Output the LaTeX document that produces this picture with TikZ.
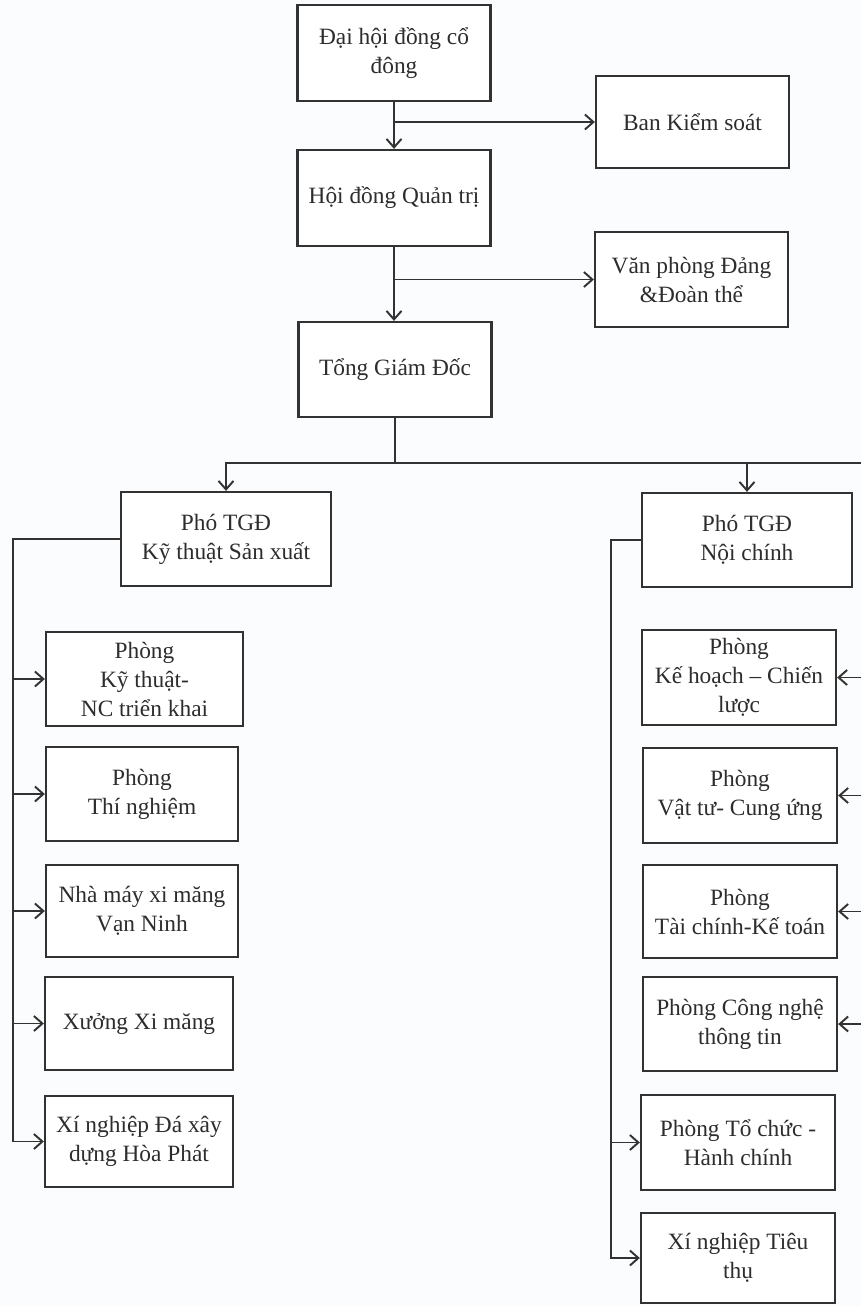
\documentclass[tikz,border=0pt]{standalone}
\usepackage{fontspec}
\setmainfont{Liberation Serif}
\usepackage{xcolor}
\usepackage{tikz}
\usetikzlibrary{arrows.meta,positioning,calc}
\definecolor{inkgray}{RGB}{50,50,50}
\definecolor{textgray}{RGB}{45,45,45}
\definecolor{paper}{RGB}{251,252,253}
\tikzset{
  orgbox/.style={draw=inkgray, line width=1.3pt, fill=white, align=center,
    text=textgray, font=\fontsize{13.3}{16.5}\selectfont, inner sep=1pt},
  flow/.style={draw=inkgray, line width=1.1pt, -{Straight Barb[length=1.7mm,width=3mm]}},
  feed/.style={draw=inkgray, line width=1.1pt}
}

\begin{document}
\begin{tikzpicture}[x=0.2mm, y=-0.2mm]
\fill[paper] (0,0) rectangle (861,1306);
\useasboundingbox (0,0) rectangle (861,1306);

% top of the chart
\node[orgbox, minimum width=38.6mm, minimum height=19.2mm] (dhcd) at (394,53) {Đại hội đồng cổ\\đông};
\node[orgbox, minimum width=38.6mm, minimum height=18.4mm] (bks) at (692.5,122) {Ban Kiểm soát};
\node[orgbox, minimum width=38.6mm, minimum height=19.2mm] (hdqt) at (394,198) {Hội đồng Quản trị};
\node[orgbox, minimum width=38.6mm, minimum height=19mm] (vpd) at (691.5,279.5) {Văn phòng Đảng\\\&Đoàn thể};
\node[orgbox, minimum width=38.6mm, minimum height=19mm] (tgd) at (395,369.5) {Tổng Giám Đốc};

% deputies
\node[orgbox, minimum width=42mm, minimum height=18.8mm] (ptkt) at (226,539) {Phó TGĐ\\Kỹ thuật Sản xuất};
\node[orgbox, minimum width=42mm, minimum height=18.8mm] (ptnc) at (747,540) {Phó TGĐ\\Nội chính};

% left column
\node[orgbox, minimum width=39.4mm, minimum height=18.8mm] (ktnc) at (144.5,679) {Phòng\\Kỹ thuật-\\NC triển khai};
\node[orgbox, minimum width=38.4mm, minimum height=18.8mm] (tn) at (142,794) {Phòng\\Thí nghiệm};
\node[orgbox, minimum width=38.4mm, minimum height=18.4mm] (nmxm) at (142,911) {Nhà máy xi măng\\Vạn Ninh};
\node[orgbox, minimum width=37.6mm, minimum height=18.6mm] (xxm) at (139,1023.5) {Xưởng Xi măng};
\node[orgbox, minimum width=37.6mm, minimum height=18.2mm] (xnda) at (139,1141.5) {Xí nghiệp Đá xây\\dựng Hòa Phát};

% right column
\node[orgbox, minimum width=38.8mm, minimum height=19mm] (khcl) at (739,677.5) {Phòng\\Kế hoạch – Chiến\\lược};
\node[orgbox, minimum width=38.8mm, minimum height=19mm] (vtcu) at (740,795.5) {Phòng\\Vật tư- Cung ứng};
\node[orgbox, minimum width=38.8mm, minimum height=18.6mm] (tckt) at (740,911.5) {Phòng\\Tài chính-Kế toán};
\node[orgbox, minimum width=38.8mm, minimum height=18.8mm] (cntt) at (740,1024) {Phòng Công nghệ\\thông tin};
\node[orgbox, minimum width=38.8mm, minimum height=19mm] (tchc) at (738,1142.5) {Phòng Tổ chức -\\Hành chính};
\node[orgbox, minimum width=38.8mm, minimum height=18mm] (xntt) at (738,1258) {Xí nghiệp Tiêu\\thụ};

\coordinate (bus) at (395,463);
\coordinate (redge) at (861,463);
\coordinate (lx) at (13,0);
\coordinate (rx) at (611,0);

\draw[flow] (dhcd) -- (hdqt);
\draw[flow] (dhcd.south |- bks.west) -- (bks.west);
\draw[flow] (hdqt) -- (hdqt.south |- tgd.north);
\draw[flow] (hdqt.south |- vpd.west) -- (vpd.west);

\draw[feed] (tgd.south) -- (bus);
\draw[flow] (bus) -| (ptkt.north);
\draw[flow] (bus) -| (ptnc.north);
\draw[feed] (ptnc.north |- bus) -- (redge);

\draw[flow] (ptkt.west) -| (lx |- xnda.west) -- (xnda.west);
\foreach \n in {ktnc,tn,nmxm,xxm}
  \draw[flow] (lx |- \n.west) -- (\n.west);

\draw[flow] (ptnc.west) -| (rx |- xntt.west) -- (xntt.west);
\draw[flow] (rx |- tchc.west) -- (tchc.west);
\foreach \n in {khcl,vtcu,tckt,cntt}
  \draw[flow] (redge |- \n.east) -- (\n.east);
\end{tikzpicture}
\end{document}
